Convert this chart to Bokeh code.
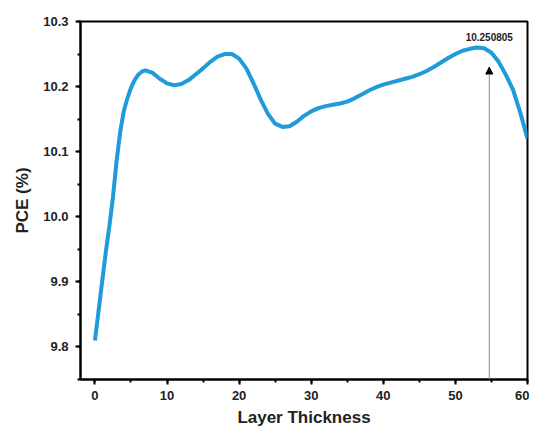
from bokeh.plotting import figure
from bokeh.models import SingleIntervalTicker, Arrow, NormalHead, Label, Range1d, NumeralTickFormatter
from bokeh.embed import file_html
from bokeh.resources import INLINE

# data
thickness = [0, 0.5, 1, 1.5, 2, 2.5, 3, 3.5, 4, 4.5, 5, 5.5, 6, 6.5, 7, 8, 9, 10, 11, 12,
             13, 14, 15, 16, 17, 18, 19, 20, 21, 22, 23, 24, 25, 26, 27, 28, 29, 30,
             31, 32, 33, 34, 35, 36, 37, 38, 39, 40, 41, 42, 43, 44, 45, 46, 47, 48,
             49, 50, 51, 52, 53, 54, 55, 56, 57, 58, 59, 60]
pce = [9.81, 9.855, 9.90, 9.945, 9.985, 10.03, 10.085, 10.13, 10.162, 10.182, 10.198, 10.21,
       10.218, 10.223, 10.225, 10.221, 10.212, 10.205, 10.202, 10.204,
       10.21, 10.219, 10.228, 10.238, 10.246, 10.25, 10.25, 10.243, 10.228, 10.205,
       10.18, 10.158, 10.143, 10.138, 10.139, 10.146, 10.155, 10.162,
       10.167, 10.17, 10.172, 10.174, 10.177, 10.182, 10.188, 10.194, 10.199, 10.203,
       10.206, 10.209, 10.212, 10.215, 10.219, 10.224, 10.23, 10.237,
       10.244, 10.25, 10.255, 10.258, 10.26, 10.259, 10.252, 10.238, 10.218, 10.195,
       10.16, 10.12]
annot_x = 54.7
annot_y_top = 10.23
annot_text = "10.250805"
annot_text_y = 10.276

FONT = "Liberation Sans"

p = figure(width=529, height=429, output_backend="svg", toolbar_location=None,
           x_range=Range1d(-2, 60), y_range=Range1d(9.75, 10.3),
           min_border_left=80, min_border_right=2, min_border_top=21, min_border_bottom=40)

p.line(thickness, pce, line_color="#1e9bd8", line_width=4)

p.add_layout(Arrow(end=NormalHead(size=7, fill_color="black", line_color="black"),
                   x_start=annot_x, y_start=9.75, x_end=annot_x, y_end=annot_y_top,
                   line_color="#888888", line_width=1))
p.add_layout(Label(x=annot_x, y=annot_text_y, text=annot_text, text_font=FONT,
                   text_font_size="10px", text_font_style="bold", text_align="center",
                   text_baseline="middle", text_color="#222222"))

p.xgrid.visible = False
p.ygrid.visible = False
p.outline_line_color = "black"
p.outline_line_width = 2
p.outline_line_alpha = 1

p.xaxis.ticker = SingleIntervalTicker(interval=10, num_minor_ticks=2)
p.yaxis.ticker = SingleIntervalTicker(interval=0.1, num_minor_ticks=2)
p.yaxis.formatter = NumeralTickFormatter(format="0.0")

for ax in (p.xaxis, p.yaxis):
    ax.axis_line_width = 2
    ax.axis_line_color = "black"
    ax.major_tick_line_width = 2
    ax.minor_tick_line_width = 2
    ax.major_tick_out = 5
    ax.major_tick_in = 0
    ax.minor_tick_out = 3
    ax.minor_tick_in = 0
    ax.major_label_text_font = FONT
    ax.major_label_text_font_style = "bold"
    ax.major_label_text_font_size = "13px"
    ax.major_label_text_color = "#222222"
    ax.axis_label_text_font = FONT
    ax.axis_label_text_font_style = "bold"
    ax.axis_label_text_font_size = "17px"
    ax.axis_label_text_color = "#222222"

p.xaxis.axis_label = "Layer Thickness"
p.yaxis.axis_label = "PCE (%)"
p.xaxis.major_label_standoff = 6
p.yaxis.major_label_standoff = 7
p.xaxis.axis_label_standoff = 5
p.yaxis.axis_label_standoff = 8

open("out.html", "w").write(file_html(p, INLINE))
